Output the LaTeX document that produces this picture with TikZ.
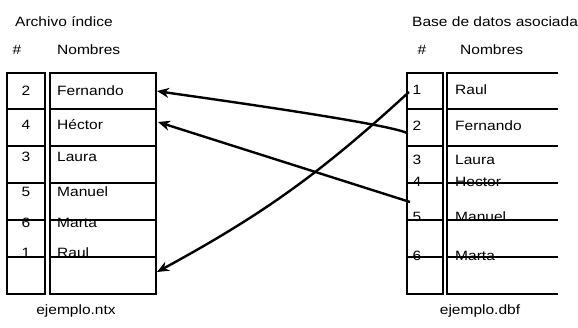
\documentclass[tikz,border=0pt]{standalone}
\usepackage{fontspec}
\setmainfont{Liberation Sans}[FakeStretch=1.15]
\usetikzlibrary{arrows.meta}

\begin{document}
\begin{tikzpicture}[x=1pt,y=-1pt,>={Stealth[length=12pt,width=10pt]},
                    font=\fontsize{13.5}{16}\selectfont]
  \tikzstyle{tabline}=[line width=1.6pt]
  \tikzstyle{num}=[anchor=center,inner sep=0pt]
  \tikzstyle{rowtext}=[anchor=west,inner sep=0pt]
  \tikzstyle{link}=[->,line width=2.4pt]
  \useasboundingbox (0,0) rectangle (578,328);

  % archivo indice
  \node[rowtext] (idxTitle) at (15,22) {Archivo índice};
  \node[num]     (idxHash)  at (17,50) {\#};
  \node[rowtext] (idxNames) at (57,50) {Nombres};
  \draw[tabline] (7,73) rectangle (45,294) (50,73) rectangle (156,294);
  \draw[tabline] (7,109) -- (45,109) (7,146) -- (45,146) (7,183) -- (45,183)
                 (7,220) -- (45,220) (7,257) -- (45,257)
                 (50,109) -- (156,109) (50,146) -- (156,146) (50,183) -- (156,183)
                 (50,220) -- (156,220) (50,257) -- (156,257);
  \node[num]     (i1) at (26,91)  {2};
  \node[num]     (i2) at (26,125) {4};
  \node[num]     (i3) at (26,157) {3};
  \node[num]     (i4) at (26,192) {5};
  \node[num]     (i5) at (26,223) {6};
  \node[num]     (i6) at (26,253) {1};
  \node[rowtext] (iFernando) at (57,91)  {Fernando};
  \node[rowtext] (iHector)   at (57,125) {Héctor};
  \node[rowtext] (iLaura)    at (57,157) {Laura};
  \node[rowtext] (iManuel)   at (57,192) {Manuel};
  \node[rowtext] (iMarta)    at (57,223) {Marta};
  \node[rowtext] (iRaul)     at (57,253) {Raul};
  \node[num]     (idxFile) at (76,311) {ejemplo.ntx};

  % base de datos asociada
  \node[rowtext] (dbTitle) at (412,22) {Base de datos asociada};
  \node[num]     (dbHash)  at (422,50) {\#};
  \node[rowtext] (dbNames) at (460,50) {Nombres};
  \draw[tabline] (407,73) rectangle (443,294)
                 (558,73) -- (447,73) -- (447,294) -- (558,294);
  \draw[tabline] (407,109) -- (443,109) (407,146) -- (443,146) (407,183) -- (443,183)
                 (407,220) -- (443,220) (407,257) -- (443,257)
                 (447,109) -- (558,109) (447,146) -- (558,146) (447,183) -- (558,183)
                 (447,220) -- (558,220) (447,257) -- (558,257);
  \node[num]     (d1) at (417,90)  {1};
  \node[num]     (d2) at (417,126) {2};
  \node[num]     (d3) at (417,160) {3};
  \node[num]     (d4) at (417,182) {4};
  \node[num]     (d5) at (417,217) {5};
  \node[num]     (d6) at (417,256) {6};
  \node[rowtext] (dRaul)     at (455,90)  {Raul};
  \node[rowtext] (dFernando) at (455,126) {Fernando};
  \node[rowtext] (dLaura)    at (455,160) {Laura};
  \node[rowtext] (dHector)   at (455,182) {Hector};
  \node[rowtext] (dManuel)   at (455,217) {Manuel};
  \node[rowtext] (dMarta)    at (455,256) {Marta};
  \node[num]     (dbFile) at (480,311) {ejemplo.dbf};

  % punteros
  \coordinate (toFernando) at (157,91);
  \coordinate (toHector)   at (158,122);
  \coordinate (toEmpty)    at (157,272);
  \coordinate (fromRaul)     at (409,92);
  \coordinate (fromFernando) at (407,133);
  \coordinate (fromHector)   at (410,202);

  \draw[link] (fromFernando) to[out=155,in=-9,looseness=0.25] (toFernando);
  \draw[link] (fromHector) -- (toHector);
  \draw[link] (fromRaul) to[bend left=7] (toEmpty);
\end{tikzpicture}
\end{document}
